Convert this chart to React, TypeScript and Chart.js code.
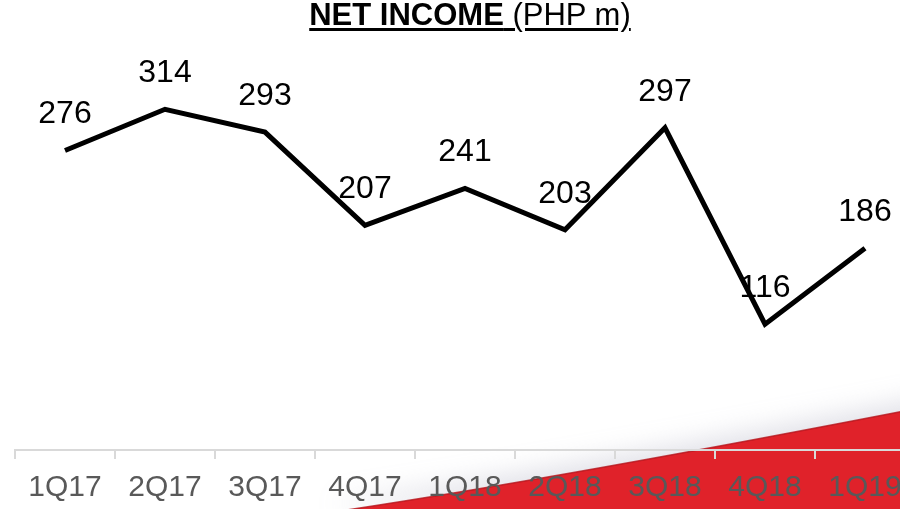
import React, { useEffect, useRef } from "react";
import { Chart, registerables } from "chart.js";

Chart.register(...registerables);

const categories = ["1Q17", "2Q17", "3Q17", "4Q17", "1Q18", "2Q18", "3Q18", "4Q18", "1Q19"];
const netIncome = [276, 314, 293, 207, 241, 203, 297, 116, 186];
const yMin = 0;
const yMax = 400;

const FONT = "'Liberation Sans', Arial, sans-serif";

const swooshPlugin = {
  id: "swoosh",
  beforeDraw(chart: any) {
    const ctx = chart.ctx;
    ctx.save();
    ctx.beginPath();
    ctx.moveTo(340, 511);
    ctx.quadraticCurveTo(560, 478, 930, 406);
    ctx.lineTo(930, 515);
    ctx.lineTo(340, 515);
    ctx.closePath();
    ctx.shadowColor = "rgba(170,170,190,0.35)";
    ctx.shadowBlur = 26;
    ctx.shadowOffsetY = -9;
    ctx.fillStyle = "#e0222a";
    ctx.fill();
    ctx.shadowColor = "transparent";
    ctx.beginPath();
    ctx.moveTo(340, 511);
    ctx.quadraticCurveTo(560, 478, 930, 406);
    ctx.strokeStyle = "rgba(180,20,28,0.8)";
    ctx.lineWidth = 1.5;
    ctx.stroke();
    ctx.restore();
  },
};

const labelPlugin = {
  id: "valueLabels",
  afterDatasetsDraw(chart: any) {
    const ctx = chart.ctx;
    const meta = chart.getDatasetMeta(0);
    ctx.save();
    ctx.font = `32px ${FONT}`;
    ctx.fillStyle = "#000000";
    ctx.textAlign = "center";
    ctx.textBaseline = "middle";
    meta.data.forEach((pt: any, i: number) => {
      ctx.fillText(String(netIncome[i]), pt.x, pt.y - 36);
    });
    ctx.restore();
  },
};

export default function App() {
  const ref = useRef<HTMLCanvasElement | null>(null);

  useEffect(() => {
    if (!ref.current) return;
    const chart = new Chart(ref.current, {
      type: "line",
      data: {
        labels: categories,
        datasets: [
          {
            data: netIncome,
            borderColor: "#000000",
            borderWidth: 5,
            pointRadius: 0,
            tension: 0,
            fill: false,
          },
        ],
      },
      options: {
        animation: false,
        responsive: false,
        maintainAspectRatio: false,
        devicePixelRatio: 1,
        layout: { padding: { left: 15, right: 15, top: 16, bottom: 0 } },
        plugins: {
          legend: { display: false },
          tooltip: { enabled: false },
          title: { display: false },
        },
        scales: {
          x: {
            type: "category",
            offset: true,
            afterFit: (scale: any) => {
              scale.height = 59;
            },
            grid: {
              display: true,
              offset: true,
              drawOnChartArea: false,
              drawTicks: true,
              tickLength: 9,
              color: "#d9d9d9",
              lineWidth: 2,
            },
            border: { display: true, color: "#d9d9d9", width: 2 },
            ticks: {
              color: "#595959",
              font: { family: FONT, size: 30 },
              padding: 11,
              maxRotation: 0,
              autoSkip: false,
            },
          },
          y: {
            display: false,
            min: yMin,
            max: yMax,
          },
        },
      },
      plugins: [swooshPlugin, labelPlugin],
    });
    return () => chart.destroy();
  }, []);

  return (
    <div
      style={{
        position: "absolute",
        left: 0,
        top: 0,
        width: 900,
        height: 509,
        overflow: "hidden",
        background: "#ffffff",
      }}
    >
      <canvas ref={ref} width={930} height={509} style={{ position: "absolute", left: 0, top: 0, width: 930, height: 509 }} />
      <div
        style={{
          position: "absolute",
          left: 0,
          top: 0,
          width: 940,
          textAlign: "center",
          fontFamily: FONT,
          fontSize: 31,
          lineHeight: "30px",
          color: "#000000",
          textDecoration: "underline",
          textUnderlineOffset: "3px",
          whiteSpace: "nowrap",
        }}
      >
        <span style={{ fontWeight: "bold" }}>NET INCOME</span> (PHP m)
      </div>
    </div>
  );
}
